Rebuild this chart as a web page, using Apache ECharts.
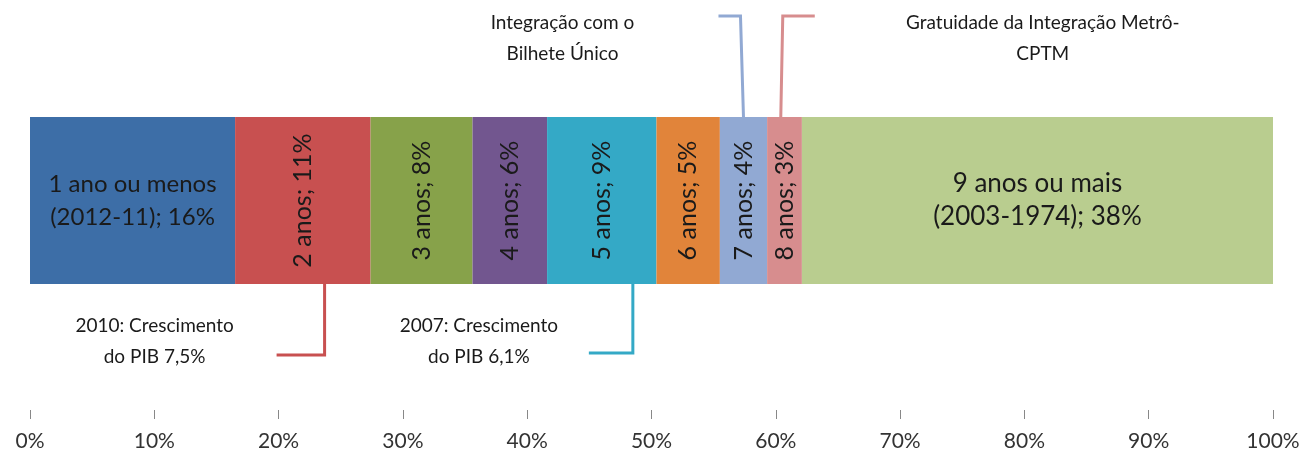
<!DOCTYPE html>
<html>
<head>
<meta charset="utf-8">
<script src="https://cdn.jsdelivr.net/npm/echarts@6/dist/echarts.min.js"></script>
<style>
  html, body { margin: 0; padding: 0; background: #fff; }
  #main { width: 1308px; height: 457px; }
</style>
</head>
<body>
<div id="main"></div>
<script>
// faixas de idade e participação (%)
const faixas = ["1 ano ou menos (2012-11)", "2 anos", "3 anos", "4 anos", "5 anos", "6 anos", "7 anos", "8 anos", "9 anos ou mais (2003-1974)"];
const valores = [16.5, 10.9, 8.2, 6.0, 8.8, 5.1, 3.8, 2.8, 37.9];
const rotulos = ["1 ano ou menos\n(2012-11); 16%", "2 anos; 11%", "3 anos; 8%", "4 anos; 6%", "5 anos; 9%", "6 anos; 5%", "7 anos; 4%", "8 anos; 3%", "9 anos ou mais\n(2003-1974); 38%"];
const ticks = [0, 10, 20, 30, 40, 50, 60, 70, 80, 90, 100];

// anotações: texto e ponto do eixo (%) onde a linha encosta na barra
const notasTexto = ["2010: Crescimento\ndo PIB 7,5%", "2007: Crescimento\ndo PIB 6,1%", "Integração com o\nBilhete Único", "Gratuidade da Integração Metrô-\nCPTM"];
const notasPonto = [23.7, 48.5, 57.4, 60.4];

const cores = ["#3d6ea7", "#c85050", "#87a24a", "#72568f", "#34a9c6", "#e1843a", "#91a9d3", "#d78d8e", "#b9cd8f"];
const fonte = "Lato";

const myChart = echarts.init(document.getElementById("main"));

const series = valores.map((v, i) => {
  const horizontal = i === 0 || i === valores.length - 1;
  return {
    name: faixas[i],
    type: "bar",
    stack: "total",
    barWidth: "100%",
    data: [v],
    itemStyle: { color: cores[i] },
    label: {
      show: true,
      position: "inside",
      rotate: horizontal ? 0 : 90,
      formatter: rotulos[i],
      color: "#1a1a1a",
      fontFamily: fonte,
      fontSize: i === 0 ? 24 : horizontal ? 26 : 25,
      lineHeight: 33,
      align: "center",
      verticalAlign: "middle",
    },
  };
});

const option = {
  animation: false,
  backgroundColor: "#fff",
  grid: { left: 30, right: 35, top: 117, bottom: 173 },
  xAxis: {
    type: "value",
    min: 0,
    max: 100,
    interval: 10,
    offset: 126,
    axisLine: { show: false },
    axisTick: { show: true, length: 9, lineStyle: { color: "#888" } },
    splitLine: { show: false },
    axisLabel: {
      formatter: "{value}%",
      margin: 21,
      color: "#333",
      fontFamily: fonte,
      fontSize: 21,
    },
  },
  yAxis: {
    type: "category",
    data: [""],
    show: false,
  },
  series: series,
};
myChart.setOption(option);

// linhas de anotação calculadas a partir do eixo
const px = (v) => myChart.convertToPixel({ xAxisIndex: 0 }, v);
const topoBarra = 117, baseBarra = 284;
const graficos = [];
const linha = (pts, cor) => ({
  type: "polyline",
  shape: { points: pts },
  style: { stroke: cor, lineWidth: 3, fill: null },
});
const texto = (x, y, t) => ({
  type: "text",
  x: x,
  y: y,
  style: {
    text: t,
    fill: "#1a1a1a",
    font: "19px " + fonte,
    align: "center",
    verticalAlign: "top",
    lineHeight: 31,
  },
});

// 2010 (vermelho)
let x0 = px(notasPonto[0]);
graficos.push(linha([[x0, baseBarra], [x0, 355], [x0 - 48, 355]], cores[1]));
graficos.push(texto(x0 - 170, 310, notasTexto[0]));
// 2007 (azul claro)
x0 = px(notasPonto[1]);
graficos.push(linha([[x0, baseBarra], [x0, 353], [x0 - 44, 353]], cores[4]));
graficos.push(texto(x0 - 154, 310, notasTexto[1]));
// Bilhete Único
x0 = px(notasPonto[2]);
graficos.push(linha([[x0, topoBarra], [x0 - 3, 16], [x0 - 25, 16]], cores[6]));
graficos.push(texto(x0 - 181, 7, notasTexto[2]));
// Metrô-CPTM
x0 = px(notasPonto[3]);
graficos.push(linha([[x0, topoBarra], [x0 + 2, 16], [x0 + 34, 16]], cores[7]));
graficos.push(texto(x0 + 262, 7, notasTexto[3]));

myChart.setOption({ graphic: graficos });
</script>
</body>
</html>
